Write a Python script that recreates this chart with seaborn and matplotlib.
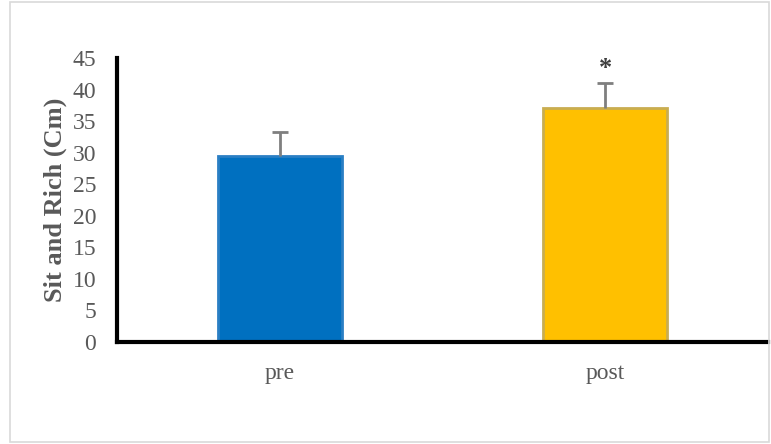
import matplotlib
matplotlib.use("Agg")
import matplotlib.pyplot as plt
import seaborn as sns
import pandas as pd
from matplotlib.patches import Rectangle

# data
groups = ["pre", "post"]
means = [29.5, 37.1]
errors = [3.8, 3.9]
bar_colors = ["#0070C0", "#FFC000"]
marks = ["", "*"]

df = pd.DataFrame({"group": groups, "value": means})

sns.set_style("white")
plt.rcParams["font.family"] = ["Liberation Serif", "DejaVu Serif"]

fig = plt.figure(figsize=(7.71, 4.44), dpi=100)
ax = fig.add_axes([0.1518, 0.2297, 0.8444, 0.6396])

sns.barplot(data=df, x="group", y="value", hue="group", palette=bar_colors,
            width=0.38, legend=False, ax=ax, saturation=1, errorbar=None)
for i, p in enumerate(ax.patches):
    p.set_edgecolor(["#2a7fc4", "#c9ad50"][i])
    p.set_linewidth(2)

# upper error bars only
tops = [m + e for m, e in zip(means, errors)]
ax.vlines(range(len(groups)), means, tops, color="#7f7f7f", linewidth=2, zorder=3)
ax.plot(range(len(groups)), tops, linestyle="none", marker="_", markersize=12,
        markeredgewidth=2, color="#7f7f7f", zorder=3)
for i, m in enumerate(marks):
    if m:
        ax.text(i, tops[i] + 0.5, m, ha="center", va="bottom",
                fontsize=19, color="#404040", fontweight="bold")

ax.set_xlim(-0.5, 1.5)
ax.set_ylim(0, 45)
ax.set_yticks(range(0, 46, 5))
ax.set_xticks([-0.5, 0.5, 1.5], minor=True)
ax.tick_params(axis="x", which="major", length=0, pad=15, labelsize=17, labelcolor="#595959")
ax.tick_params(axis="x", which="minor", length=6, width=3, color="black", direction="out")
ax.tick_params(axis="y", length=6, width=3, color="black", direction="out",
               labelsize=17, labelcolor="#595959", pad=9)

for s in ["top", "right"]:
    ax.spines[s].set_visible(False)
for s in ["left", "bottom"]:
    ax.spines[s].set_linewidth(3)
    ax.spines[s].set_color("black")

ax.set_xlabel("")
ax.set_ylabel("Sit and Rich (Cm)", fontsize=19, fontweight="bold", color="#595959", labelpad=4)

fig.patches.append(Rectangle((0.013, 0.005), 0.985, 0.99, transform=fig.transFigure,
                             fill=False, edgecolor="#d9d9d9", linewidth=1.2))

fig.savefig("out.png", dpi=100)
